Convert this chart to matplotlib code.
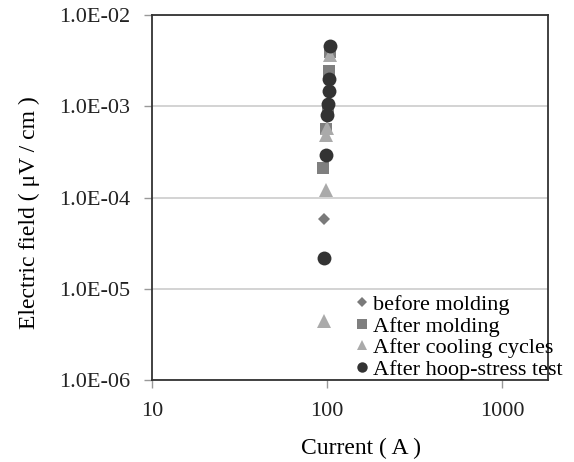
import matplotlib
matplotlib.use('Agg')
import matplotlib.pyplot as plt
from matplotlib.ticker import FuncFormatter, NullLocator

plt.rcParams['font.family'] = ['Liberation Serif', 'DejaVu Serif']

# before molding
beforeCurrent = [96, 99, 101]
beforeField = [5.8e-5, 5.5e-4, 9.5e-4]
# After molding
moldCurrent = [95, 98, 101, 103, 104]
moldField = [2.1e-4, 5.6e-4, 9.0e-4, 2.4e-3, 3.9e-3]
# After cooling cycles
coolCurrent = [96, 98, 99, 100, 104]
coolField = [4.5e-6, 1.2e-4, 4.8e-4, 5.8e-4, 3.6e-3]
# After hoop-stress test
hoopCurrent = [96, 98, 100, 101, 102, 103, 104]
hoopField = [2.2e-5, 2.9e-4, 8.0e-4, 1.06e-3, 1.45e-3, 2.0e-3, 4.6e-3]

seriesLabels = ['before molding', 'After molding', 'After cooling cycles', 'After hoop-stress test']
yTicks = [1e-6, 1e-5, 1e-4, 1e-3, 1e-2]
xTicks = [10, 100, 1000]

fig = plt.figure(figsize=(5.74, 4.62), dpi=100)
ax = fig.add_axes([0.265, 0.177, 0.69, 0.791])

ax.plot(beforeCurrent, beforeField, 'D', color='#7a7a7a', markersize=6.5, markeredgewidth=0, label=seriesLabels[0], zorder=3)
ax.plot(moldCurrent, moldField, 's', color='#7f7f7f', markersize=9, markeredgewidth=0, label=seriesLabels[1], zorder=3)
ax.plot(coolCurrent, coolField, '^', color='#aaaaaa', markersize=9.5, markeredgewidth=0, label=seriesLabels[2], zorder=3)
ax.plot(hoopCurrent, hoopField, 'o', color='#333333', markersize=10, markeredgewidth=0, label=seriesLabels[3], zorder=4)

ax.set_xscale('log')
ax.set_yscale('log')
ax.set_xlim(10, 1830)
ax.set_ylim(1e-6, 1e-2)
ax.set_xticks(xTicks)
ax.set_xticklabels([str(t) for t in xTicks])
ax.set_yticks(yTicks)
ax.yaxis.set_major_formatter(FuncFormatter(lambda v, p: '{:.1E}'.format(v)))
ax.xaxis.set_minor_locator(NullLocator())
ax.yaxis.set_minor_locator(NullLocator())
ax.tick_params(axis='both', which='major', labelsize=16, length=6, width=1, color='#999999', pad=10,
               labelcolor='#222222')

ax.yaxis.grid(True, color='#cccccc', linewidth=1.2)
ax.set_axisbelow(True)
for s in ax.spines.values():
    s.set_color('#333333')
    s.set_linewidth(1.3)

ax.set_xlabel('Current ( A )', fontsize=17)
ax.set_ylabel('Electric field ( \u03bcV / cm )', fontsize=17)
ax.xaxis.set_label_coords(0.528, -0.158)
ax.yaxis.set_label_coords(-0.283, 0.4575)

leg = fig.legend(loc='upper left', bbox_to_anchor=(0.601, 0.387), frameon=False, fontsize=16,
                 handlelength=0.5, handletextpad=0.25, labelspacing=0.05, borderpad=0, markerscale=0.75)

plt.savefig('out.png', dpi=100)
